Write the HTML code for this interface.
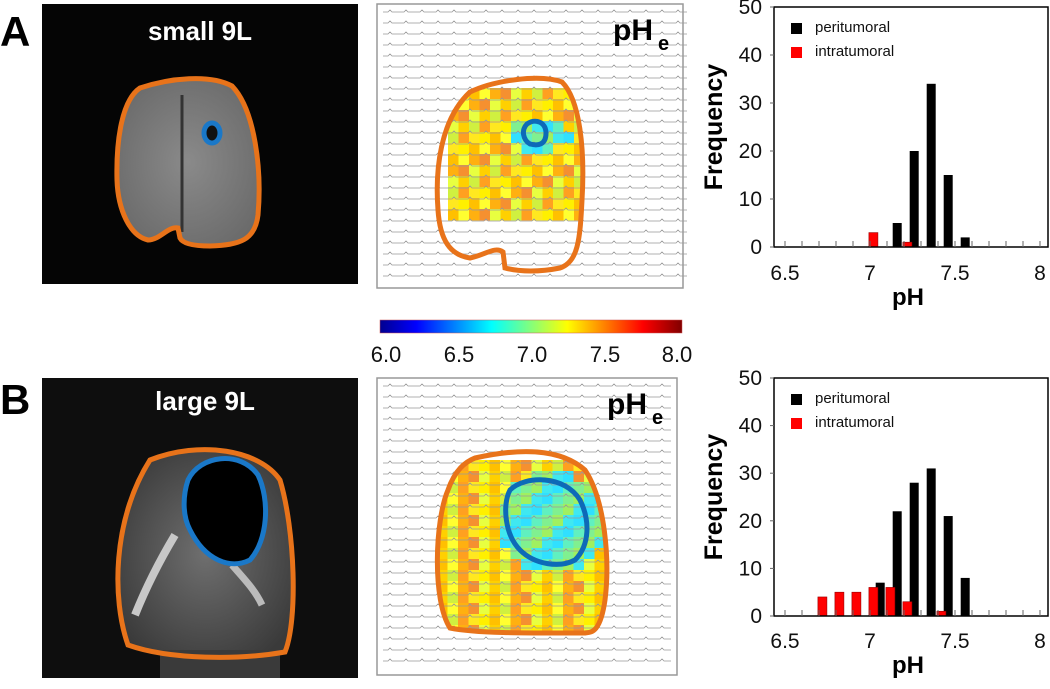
<!DOCTYPE html>
<html><head><meta charset="utf-8"><style>
html,body{margin:0;padding:0;background:#fff;}
svg{display:block;font-family:"Liberation Sans",sans-serif;}
</style></head><body>
<svg id="fig" width="1050" height="689" viewBox="0 0 1050 689">
<defs>
<linearGradient id="jet" x1="0" x2="1" y1="0" y2="0">
<stop offset="0" stop-color="#00008f"/><stop offset="0.12" stop-color="#0000ff"/>
<stop offset="0.37" stop-color="#00ffff"/><stop offset="0.62" stop-color="#ffff00"/>
<stop offset="0.87" stop-color="#ff0000"/><stop offset="1" stop-color="#800000"/>
</linearGradient>
<radialGradient id="brainA" cx="0.5" cy="0.5" r="0.6"><stop offset="0" stop-color="#8a8a8a"/><stop offset="1" stop-color="#6a6a6a"/></radialGradient>
<radialGradient id="brainB" cx="0.5" cy="0.5" r="0.6"><stop offset="0" stop-color="#6f6f6f"/><stop offset="1" stop-color="#3a3a3a"/></radialGradient>
<clipPath id="clipA"><path d="M470,92 C495,80 540,74 562,82 C580,100 585,150 582,200 C580,240 578,262 560,268 C540,272 520,272 505,268 L503,252 C495,246 485,255 470,258 C450,255 440,240 438,210 C435,170 440,120 470,92Z"/></clipPath>
<clipPath id="clipB"><path d="M475,458 C520,448 560,448 585,470 C605,500 610,560 605,600 C600,635 590,632 585,633 C540,633 480,634 450,628 C432,600 435,520 448,490 C455,470 465,462 475,458Z"/></clipPath>
</defs>

<text x="0" y="46" font-size="42" font-weight="bold">A</text>
<text x="0" y="414" font-size="42" font-weight="bold">B</text>

<g>
<rect x="42" y="4" width="316" height="280" fill="#050505"/>
<path d="M140,88 C170,78 210,74 232,86 C255,110 262,170 258,215 C255,240 240,245 210,246 C195,246 183,244 180,238 L178,228 C168,226 160,240 148,240 C130,236 118,210 117,180 C116,140 122,100 140,88Z" fill="url(#brainA)"/>
<line x1="182" y1="95" x2="182" y2="232" stroke="#333" stroke-width="3"/>
<path d="M140,88 C170,78 210,74 232,86 C255,110 262,170 258,215 C255,240 240,245 210,246 C195,246 183,244 180,238 L178,228 C168,226 160,240 148,240 C130,236 118,210 117,180 C116,140 122,100 140,88Z" fill="none" stroke="#e8731a" stroke-width="5"/>
<ellipse cx="212" cy="133" rx="8" ry="10" fill="#111" stroke="#1a78c8" stroke-width="5"/>
<text x="200" y="40" font-size="26" font-weight="bold" fill="#fff" text-anchor="middle">small 9L</text>
</g>

<g>
<rect x="42" y="378" width="316" height="300" fill="#0e0e0e"/>
<path d="M150,460 C200,440 260,450 280,480 C295,530 298,620 285,652 C240,660 170,660 128,645 C112,600 112,520 150,460Z" fill="url(#brainB)"/>
<rect x="160" y="650" width="120" height="28" fill="#3a3a3a"/>
<path d="M175,535 C160,560 145,590 135,615" stroke="#c8c8c8" stroke-width="8" fill="none"/>
<path d="M232,565 C245,580 255,590 262,605" stroke="#bbb" stroke-width="7" fill="none"/>
<path d="M150,460 C200,440 260,450 280,480 C295,530 298,620 285,652 C240,660 170,660 128,645 C112,600 112,520 150,460Z" fill="none" stroke="#e8731a" stroke-width="5"/>
<path d="M188,480 C200,455 240,450 258,475 C270,500 268,540 250,560 C230,570 205,560 190,530 C182,515 183,495 188,480Z" fill="#000" stroke="#1a78c8" stroke-width="5"/>
<text x="205" y="410" font-size="26" font-weight="bold" fill="#fff" text-anchor="middle">large 9L</text>
</g>

<g id="mapA">
<rect x="377" y="4" width="306" height="284" fill="#fff" stroke="#999" stroke-width="1.5"/>
</g>
<g id="mapB">
<rect x="377" y="378" width="300" height="297" fill="#fff" stroke="#999" stroke-width="1.5"/>
</g>

<g>
<rect x="380" y="320" width="302" height="13" fill="url(#jet)" stroke="#c55" stroke-width="0.5"/>
<g font-size="22" text-anchor="middle" fill="#111">
<text x="386" y="362">6.0</text><text x="459" y="362">6.5</text><text x="532" y="362">7.0</text><text x="605" y="362">7.5</text><text x="677" y="362">8.0</text>
</g>
</g>

<g id="histA"></g>
<g id="histB"></g>
</svg>
<script>
const xTicks=[6.5,7,7.5,8];
const yTicks=[0,10,20,30,40,50];
const periA_x=[7.16,7.26,7.36,7.46,7.56];
const periA_y=[5,20,34,15,2];
const intraA_x=[7.02,7.22];
const intraA_y=[3,1];
const periB_x=[7.06,7.16,7.26,7.36,7.46,7.56];
const periB_y=[7,22,28,31,21,8];
const intraB_x=[6.72,6.82,6.92,7.02,7.12,7.22,7.42];
const intraB_y=[4,5,5,6,6,3,1];
const NS="http://www.w3.org/2000/svg";
function mk(p,tag,at){const e=document.createElementNS(NS,tag);for(const k in at)e.setAttribute(k,at[k]);p.appendChild(e);return e;}

function hist(gid,top,bottom,periX,periY,intraX,intraY,labY,phY){
  const g=document.getElementById(gid);
  const L=774,R=1048;
  const sx=v=>785+(v-6.5)*170;
  const sy=v=>bottom-(v/50)*(bottom-top);
  const bw=9;
  periX.forEach((x,i)=>{const r=mk(g,'rect',{x:sx(x)-bw/2,y:sy(periY[i]),width:bw,height:sy(0)-sy(periY[i]),fill:'#000'});
    });
  intraX.forEach((x,i)=>{const r=mk(g,'rect',{x:sx(x)-bw/2,y:sy(intraY[i]),width:bw,height:sy(0)-sy(intraY[i]),fill:'#f00',stroke:'#900','stroke-width':0.6});
    });
  mk(g,'rect',{x:L,y:top,width:R-L,height:bottom-top,fill:'none',stroke:'#000','stroke-width':1.5});
  for(let v=6.5;v<=8.01;v+=0.1){mk(g,'line',{x1:sx(v),x2:sx(v),y1:bottom,y2:bottom-6,stroke:'#666','stroke-width':1});}
  yTicks.forEach(v=>{const t=mk(g,'text',{x:762,y:sy(v)+7,'font-size':21,'text-anchor':'end',fill:'#111'});t.textContent=v;
    mk(g,'line',{x1:L-4,x2:L,y1:sy(v),y2:sy(v),stroke:'#666'});});
  xTicks.forEach(v=>{const t=mk(g,'text',{x:sx(v),y:labY,'font-size':21,'text-anchor':'middle',fill:'#111'});t.textContent=v;});
  const p=mk(g,'text',{x:908,y:phY,'font-size':24,'font-weight':'bold','text-anchor':'middle'});p.textContent='pH';
  
  const cy=(top+bottom)/2;
  const f=mk(g,'text',{x:0,y:0,'font-size':25,'font-weight':'bold','text-anchor':'middle',transform:`translate(722,${cy}) rotate(-90)`});f.textContent='Frequency';
  
  mk(g,'rect',{x:791,y:top+16,width:11,height:11,fill:'#000'});
  const t1=mk(g,'text',{x:815,y:top+25,'font-size':15,fill:'#111'});t1.textContent='peritumoral';
  
  mk(g,'rect',{x:791,y:top+40,width:11,height:11,fill:'#f00'});
  const t2=mk(g,'text',{x:815,y:top+49,'font-size':15,fill:'#111'});t2.textContent='intratumoral';
  
}
hist('histA',7,247,periA_x,periA_y,intraA_x,intraA_y,280,305);
hist('histB',378,616,periB_x,periB_y,intraB_x,intraB_y,648,673);

const jetCols=['#ffd000','#ffe820','#ffff30','#e8ff40','#ffa020','#ffc000','#f59030','#d0f040','#fff000','#ffb010'];
const cyanCols=['#60f0c0','#40e8f0','#80f090','#30e0ff','#a0f060'];
function map(gid,x0,y0,w,h,clip,outline,blue,cells,cyan){
  const g=document.getElementById(gid);
  const cg=mk(g,'g',{'clip-path':'url(#'+clip+')'});
  const cw=10.5,ch=11;let k=0;
  const [cx0,cy0,cx1,cy1]=cells;
  for(let y=cy0;y<cy1;y+=ch){for(let x=cx0;x<cx1;x+=cw){k++;
    const d=Math.hypot((x-cyan[0])/cyan[2],(y-cyan[1])/cyan[3]);
    const col=d<1?cyanCols[(k*7)%5]:jetCols[(k*7+Math.floor(y/11)*3)%10];
    mk(cg,'rect',{x:x,y:y,width:cw+0.5,height:ch+0.5,fill:col});}}
  for(let y=y0+8;y<y0+h-4;y+=11){
    let d='M'+(x0+6)+','+y;
    for(let x=x0+6;x<x0+w-8;x+=16){d+=` l5,0 l2,-2 l2,2 l7,0`;}
    mk(g,'path',{d:d,stroke:'#999','stroke-width':0.8,fill:'none'});}
  mk(g,'path',{d:outline,fill:'none',stroke:'#e8731a','stroke-width':5});
  mk(g,'path',{d:blue,fill:'none',stroke:'#0d6ab8','stroke-width':5});
  const t=mk(g,'text',{x:x0+w-70,y:y0+36,'font-size':30,'font-weight':'bold'});t.textContent='pH';
  
  mk(g,'text',{x:x0+w-25,y:y0+46,'font-size':20,'font-weight':'bold'}).textContent='e';
}
map('mapA',377,4,306,284,'clipA',
 'M470,92 C495,80 540,74 562,82 C580,100 585,150 582,200 C580,240 578,262 560,268 C540,272 520,272 505,268 L503,252 C495,246 485,255 470,258 C450,255 440,240 438,210 C435,170 440,120 470,92Z',
 'M527,124 C535,118 546,122 546,133 C546,145 538,146 530,144 C523,140 521,130 527,124Z',
 [448,88,575,215],[535,128,30,18]);
map('mapB',377,378,300,297,'clipB',
 'M475,458 C520,448 560,448 585,470 C605,500 610,560 605,600 C600,635 590,632 585,633 C540,633 480,634 450,628 C432,600 435,520 448,490 C455,470 465,462 475,458Z',
 'M510,490 C525,475 565,475 580,500 C590,520 590,545 575,560 C560,568 535,565 520,550 C505,535 502,505 510,490Z',
 [437,460,605,635],[548,518,55,50]);
</script>
</body></html>
